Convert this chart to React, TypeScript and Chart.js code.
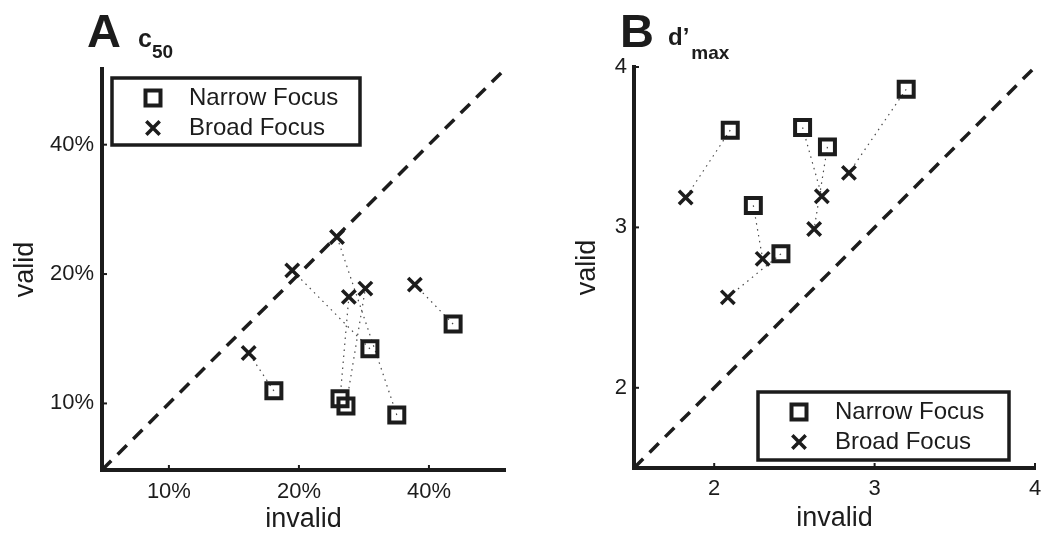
import React, { useEffect, useRef } from "react";
import { Chart, registerables } from "chart.js";

Chart.register(...registerables);

const FONT = "'Liberation Sans', Arial, Helvetica, sans-serif";
const INK = "#1c1c1c";

// ---------- Panel A: c50 (percent, log axes) ----------
const seriesLabels = ["Narrow Focus", "Broad Focus"];
const aNarrowInvalid = [17.5, 45.5, 29.2, 33.7, 24.9, 25.7];
const aNarrowValid = [10.7, 15.3, 13.4, 9.4, 10.25, 9.86];
const aBroadInvalid = [15.3, 37.1, 19.3, 24.5, 26.1, 28.5];
const aBroadValid = [13.1, 18.9, 20.4, 24.4, 17.7, 18.5];
const aTicks = [10, 20, 40];
const aRange = [7, 60];

// ---------- Panel B: d'max (linear axes) ----------
const bNarrowInvalid = [2.1, 2.244, 2.416, 2.551, 2.706, 3.197];
const bNarrowValid = [3.606, 3.137, 2.835, 3.623, 3.502, 3.861];
const bBroadInvalid = [1.822, 2.302, 2.085, 2.671, 2.623, 2.84];
const bBroadValid = [3.186, 2.804, 2.564, 3.194, 2.99, 3.34];
const bTicks = [2, 3, 4];
const bRange = [1.5, 4];

const pts = (xs: number[], ys: number[]) => xs.map((x, i) => ({ x, y: ys[i] }));

const decorPlugin = {
  id: "panelDecor",
  afterDraw(chart: any, _args: any, opts: any) {
    const { ctx, chartArea, scales } = chart;
    ctx.save();
    // inward tick marks
    ctx.strokeStyle = INK;
    ctx.lineWidth = 2;
    const xs = scales.x;
    const ys = scales.y;
    xs.ticks.forEach((t: any) => {
      const p = xs.getPixelForValue(t.value);
      ctx.beginPath();
      ctx.moveTo(p, chartArea.bottom);
      ctx.lineTo(p, chartArea.bottom - 5);
      ctx.stroke();
    });
    ys.ticks.forEach((t: any) => {
      const p = ys.getPixelForValue(t.value);
      ctx.beginPath();
      ctx.moveTo(chartArea.left, p);
      ctx.lineTo(chartArea.left + 5, p);
      ctx.stroke();
    });
    // panel letter and measure
    ctx.fillStyle = INK;
    ctx.textAlign = "left";
    ctx.textBaseline = "alphabetic";
    ctx.font = `bold 47px ${FONT}`;
    ctx.fillText(opts.letter, opts.letterX, 47);
    ctx.font = `bold ${opts.measureSize}px ${FONT}`;
    ctx.fillText(opts.measure, opts.measureX, opts.measureBase);
    const mw = ctx.measureText(opts.measure).width;
    ctx.font = `bold 19px ${FONT}`;
    ctx.fillText(opts.sub, opts.measureX + mw + opts.subGap, opts.subBase);
    // legend box
    const L = opts.legend;
    ctx.fillStyle = "#fff";
    ctx.fillRect(L.x, L.y, L.w, L.h);
    ctx.lineWidth = 3.5;
    ctx.strokeStyle = INK;
    ctx.strokeRect(L.x, L.y, L.w, L.h);
    const mx = L.x + 41;
    const r1 = L.y + 20;
    const r2 = L.y + 50;
    ctx.lineWidth = 4;
    ctx.strokeRect(mx - 7.5, r1 - 7.5, 15, 15);
    ctx.lineWidth = 3.5;
    ctx.beginPath();
    ctx.moveTo(mx - 6.7, r2 - 6.7);
    ctx.lineTo(mx + 6.7, r2 + 6.7);
    ctx.moveTo(mx + 6.7, r2 - 6.7);
    ctx.lineTo(mx - 6.7, r2 + 6.7);
    ctx.stroke();
    ctx.fillStyle = INK;
    ctx.font = `24px ${FONT}`;
    ctx.textBaseline = "middle";
    ctx.fillText(seriesLabels[0], L.x + 77, r1);
    ctx.fillText(seriesLabels[1], L.x + 77, r2);
    ctx.restore();
  },
};

function buildConfig(p: any) {
  const {
    type, range, ticks, fmt, nX, nY, bX, bY, padding, xTitlePad, yTitlePad,
    xTickPad, yTickPad, yWidth, xHeight, decor,
  } = p;
  const pairDatasets = nX.map((_: number, i: number) => ({
    data: [
      { x: nX[i], y: nY[i] },
      { x: bX[i], y: bY[i] },
    ],
    showLine: true,
    borderColor: "#4a4a4a",
    borderWidth: 1.2,
    borderDash: [1.5, 4.5],
    pointRadius: 0,
    fill: false,
    order: 5,
  }));
  return {
    type: "scatter",
    data: {
      datasets: [
        {
          label: seriesLabels[0],
          data: pts(nX, nY),
          pointStyle: "rect",
          pointRadius: 10.6,
          borderWidth: 4,
          borderColor: INK,
          backgroundColor: "rgba(0,0,0,0)",
          order: 1,
        },
        {
          label: seriesLabels[1],
          data: pts(bX, bY),
          pointStyle: "crossRot",
          pointRadius: 9.5,
          borderWidth: 3.5,
          borderColor: INK,
          backgroundColor: INK,
          order: 2,
        },
        {
          data: [
            { x: range[0], y: range[0] },
            { x: range[1], y: range[1] },
          ],
          showLine: true,
          borderColor: INK,
          borderWidth: 3.5,
          borderDash: [13, 9],
          pointRadius: 0,
          fill: false,
          order: 3,
        },
        ...pairDatasets,
      ],
    },
    options: {
      responsive: false,
      animation: false,
      events: [],
      layout: { padding },
      plugins: {
        legend: { display: false },
        tooltip: { enabled: false },
        panelDecor: decor,
      },
      scales: {
        x: {
          type,
          min: range[0],
          max: range[1],
          afterBuildTicks: (s: any) => {
            s.ticks = ticks.map((v: number) => ({ value: v }));
          },
          afterFit: (s: any) => {
            s.height = xHeight;
            s.paddingLeft = 0;
            s.paddingRight = 0;
          },
          grid: { display: false, drawTicks: false },
          border: { display: true, width: 4, color: INK },
          ticks: {
            padding: xTickPad,
            color: INK,
            font: { size: 22, family: FONT },
            maxRotation: 0,
            autoSkip: false,
            callback: (v: any) => fmt(v),
          },
          title: {
            display: true,
            text: "invalid",
            color: INK,
            font: { size: 27, family: FONT },
            padding: { top: 0, bottom: xTitlePad },
          },
        },
        y: {
          type,
          min: range[0],
          max: range[1],
          afterBuildTicks: (s: any) => {
            s.ticks = ticks.map((v: number) => ({ value: v }));
          },
          afterFit: (s: any) => {
            s.width = yWidth;
            s.paddingTop = 0;
            s.paddingBottom = 0;
          },
          grid: { display: false, drawTicks: false },
          border: { display: true, width: 4, color: INK },
          ticks: {
            padding: yTickPad,
            color: INK,
            font: { size: 22, family: FONT },
            autoSkip: false,
            callback: (v: any) => fmt(v),
          },
          title: {
            display: true,
            text: "valid",
            color: INK,
            font: { size: 27, family: FONT },
            padding: { top: yTitlePad, bottom: 0 },
          },
        },
      },
    },
    plugins: [decorPlugin],
  };
}

const configA = () =>
  buildConfig({
    type: "logarithmic",
    range: aRange,
    ticks: aTicks,
    fmt: (v: number) => `${v}%`,
    nX: aNarrowInvalid,
    nY: aNarrowValid,
    bX: aBroadInvalid,
    bY: aBroadValid,
    padding: { left: 0, top: 69, right: 16, bottom: 0 },
    xTitlePad: 0,
    yTitlePad: 9,
    xTickPad: 9,
    yTickPad: 8,
    yWidth: 102,
    xHeight: 66,
    decor: {
      letter: "A",
      letterX: 87,
      measure: "c",
      measureSize: 25,
      measureX: 138,
      measureBase: 47,
      sub: "50",
      subGap: 0,
      subBase: 58,
      legend: { x: 112, y: 78, w: 248, h: 67 },
    },
  });

// canvas B is wider than the visible page; the page edge crops it like the reference
const configB = () =>
  buildConfig({
    type: "linear",
    range: bRange,
    ticks: bTicks,
    fmt: (v: number) => `${v}`,
    nX: bNarrowInvalid,
    nY: bNarrowValid,
    bX: bBroadInvalid,
    bY: bBroadValid,
    padding: { left: 0, top: 67, right: 26, bottom: 0 },
    xTitlePad: 1,
    yTitlePad: 50,
    xTickPad: 8,
    yTickPad: 7,
    yWidth: 113,
    xHeight: 68,
    decor: {
      letter: "B",
      letterX: 99,
      measure: "d\u2019",
      measureSize: 24,
      measureX: 147,
      measureBase: 45,
      sub: "max",
      subGap: 2,
      subBase: 59,
      legend: { x: 237, y: 392, w: 251, h: 68 },
    },
  });

function Panel({ makeConfig, left, width }: { makeConfig: () => any; left: number; width: number }) {
  const ref = useRef<HTMLCanvasElement>(null);
  useEffect(() => {
    const chart = new Chart(ref.current as HTMLCanvasElement, makeConfig());
    return () => chart.destroy();
  }, []);
  return (
    <canvas
      ref={ref}
      width={width}
      height={536}
      style={{ position: "absolute", left, top: 0, width, height: 536 }}
    />
  );
}

export default function App() {
  return (
    <div
      style={{
        position: "absolute",
        left: 0,
        top: 0,
        width: 1042,
        height: 536,
        background: "#fff",
        overflow: "hidden",
      }}
    >
      <Panel makeConfig={configA} left={0} width={521} />
      <Panel makeConfig={configB} left={521} width={540} />
    </div>
  );
}
